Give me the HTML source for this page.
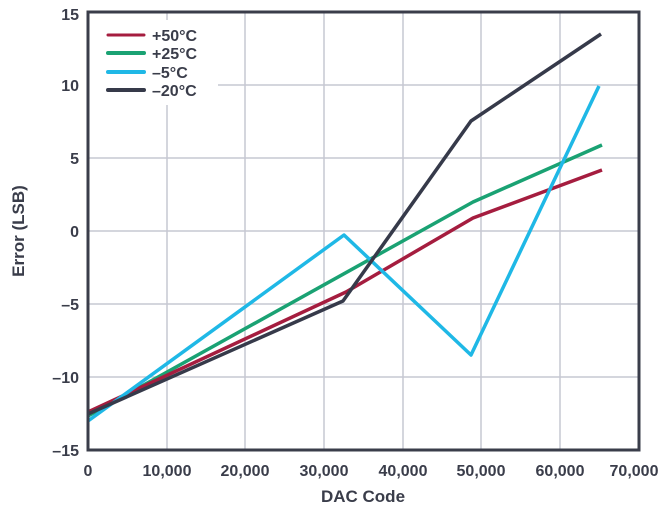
<!DOCTYPE html><html><head><style>body{margin:0;background:#fff}svg text{font-family:"Liberation Sans",sans-serif;font-weight:bold;fill:#3a3d4a}</style></head><body>
<svg width="671" height="512" xmlns="http://www.w3.org/2000/svg">
<g stroke="#c6c8d2" stroke-width="1.5">
<line x1="167" y1="12" x2="167" y2="450"/><line x1="245" y1="12" x2="245" y2="450"/><line x1="324" y1="12" x2="324" y2="450"/><line x1="403" y1="12" x2="403" y2="450"/><line x1="481" y1="12" x2="481" y2="450"/><line x1="560" y1="12" x2="560" y2="450"/>
<line x1="88" y1="85" x2="639" y2="85"/><line x1="88" y1="158" x2="639" y2="158"/><line x1="88" y1="231" x2="639" y2="231"/><line x1="88" y1="304" x2="639" y2="304"/><line x1="88" y1="377" x2="639" y2="377"/>
</g>
<rect x="88" y="20" width="130" height="85" fill="#fff"/>
<g fill="none" stroke-width="3.5" stroke-linejoin="round">
<polyline stroke="#1aa273" points="88,416 473,202 602,145"/>
<polyline stroke="#a51d3f" points="88,412 346,292 473,218 602,170"/>
<polyline stroke="#1fb8e6" points="88,421 344,235 471,355 599,86"/>
<polyline stroke="#363a4a" points="88,414 343,301 471,121 601,34"/>
</g>
<rect x="88" y="12" width="551" height="438" fill="none" stroke="#3a3d4a" stroke-width="3"/>
<g stroke-width="4" stroke-linecap="round"><line x1="108" y1="35" x2="144" y2="35" stroke="#a51d3f" stroke-width="3"/><line x1="108" y1="53" x2="144" y2="53" stroke="#1aa273"/><line x1="108" y1="72" x2="144" y2="72" stroke="#1fb8e6"/><line x1="108" y1="90" x2="144" y2="90" stroke="#363a4a"/></g>
<g font-size="16"><text x="152" y="41">+50°C</text><text x="152" y="59">+25°C</text><text x="152" y="78">–5°C</text><text x="152" y="96">–20°C</text></g>
<g font-size="16" text-anchor="end"><text x="79" y="20">15</text><text x="79" y="91">10</text><text x="79" y="164">5</text><text x="79" y="237">0</text><text x="79" y="310">–5</text><text x="79" y="383">–10</text><text x="79" y="456">–15</text></g>
<g font-size="16" text-anchor="middle"><text x="88" y="476">0</text><text x="167" y="476">10,000</text><text x="245" y="476">20,000</text><text x="324" y="476">30,000</text><text x="403" y="476">40,000</text><text x="481" y="476">50,000</text><text x="560" y="476">60,000</text><text x="634" y="476">70,000</text></g>
<text x="363" y="502" font-size="17" text-anchor="middle">DAC Code</text>
<text transform="translate(24,231) rotate(-90)" font-size="17" text-anchor="middle">Error (LSB)</text>
</svg></body></html>
